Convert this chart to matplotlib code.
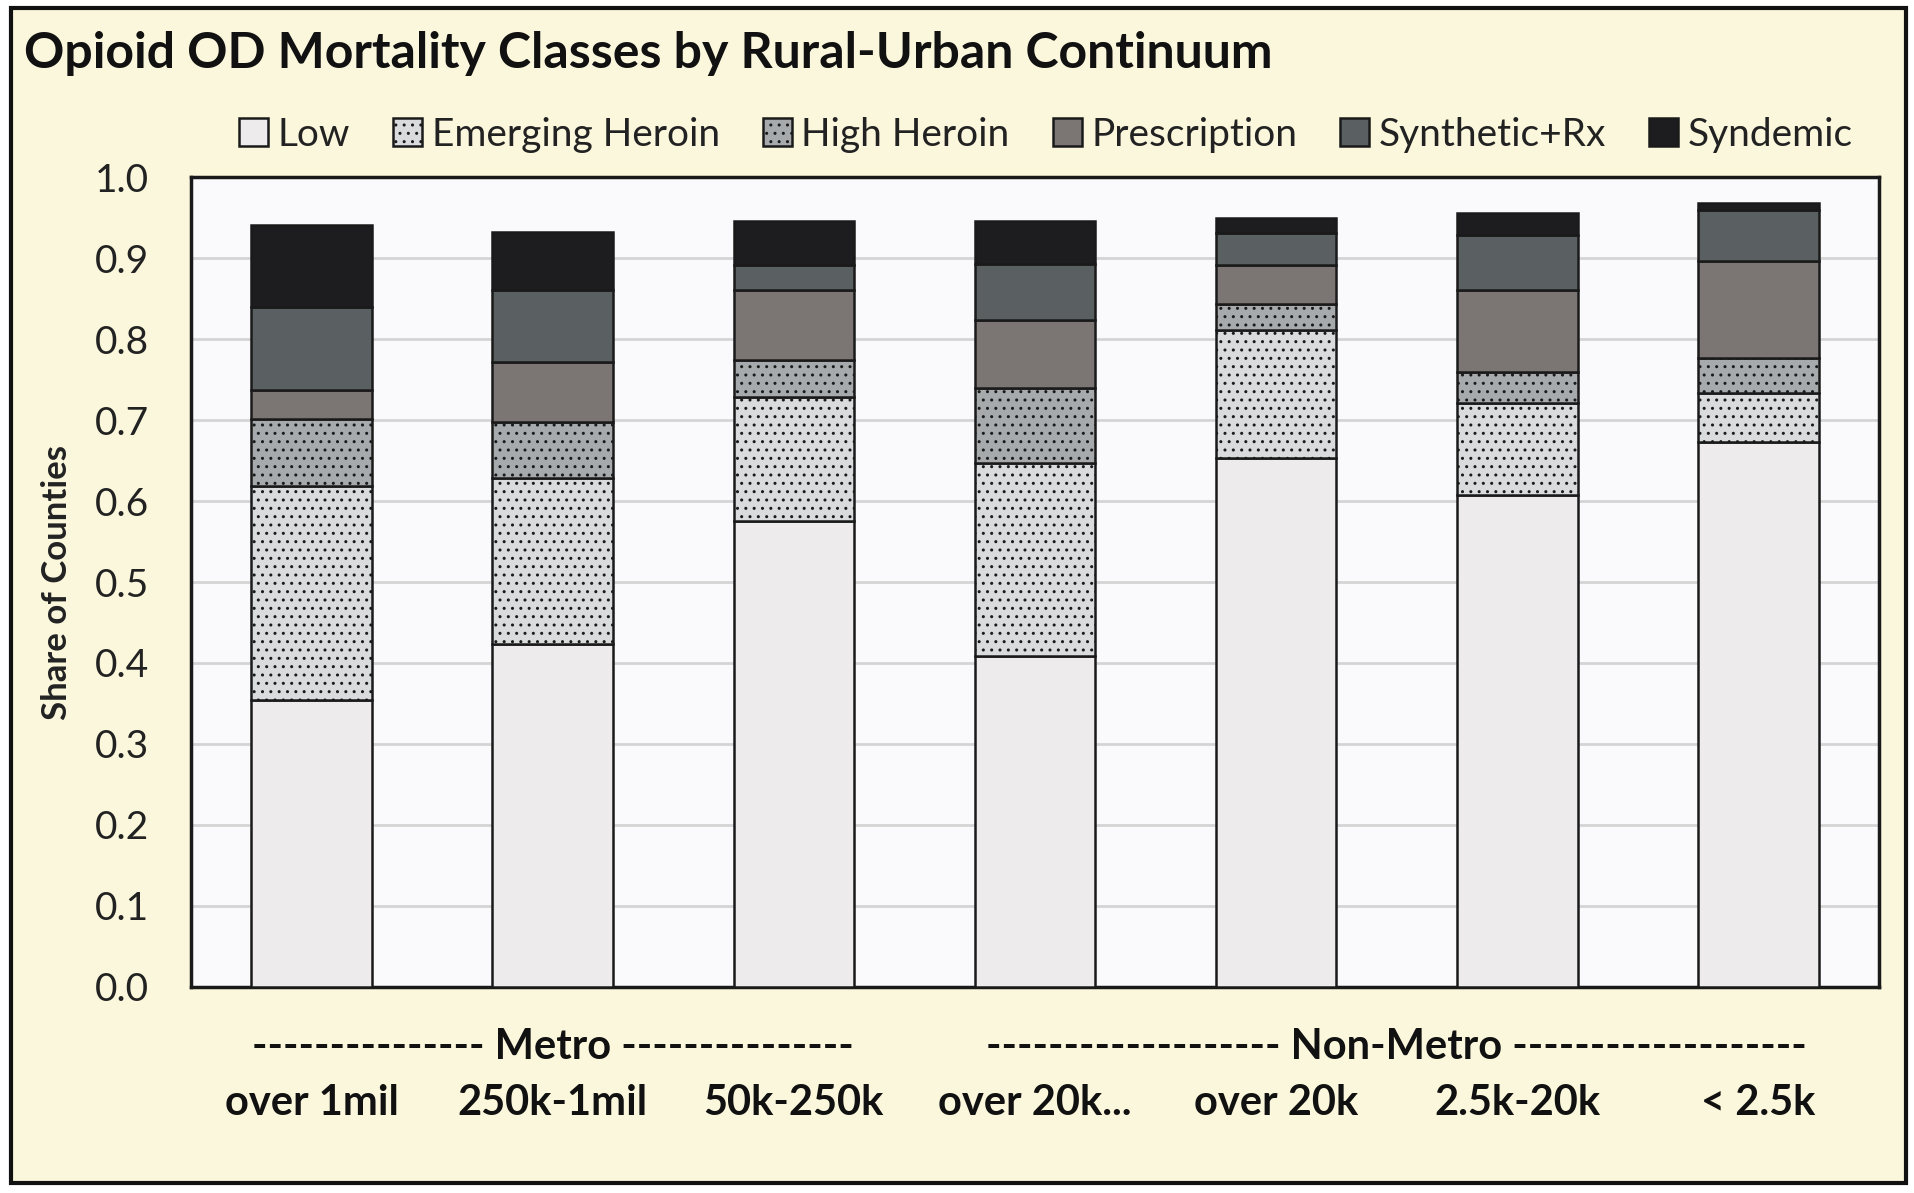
import matplotlib
matplotlib.use("Agg")
import matplotlib.pyplot as plt
from matplotlib.patches import Rectangle

# category labels and group labels
categories = ["over 1mil", "250k-1mil", "50k-250k", "over 20k...", "over 20k", "2.5k-20k", "< 2.5k"]
classes = ["Low", "Emerging Heroin", "High Heroin", "Prescription", "Synthetic+Rx", "Syndemic"]

# share of counties per class
low = [0.354, 0.424, 0.575, 0.409, 0.653, 0.608, 0.673]
emerging_heroin = [0.264, 0.205, 0.153, 0.238, 0.158, 0.113, 0.060]
high_heroin = [0.083, 0.068, 0.046, 0.092, 0.032, 0.038, 0.044]
prescription = [0.036, 0.075, 0.086, 0.085, 0.048, 0.102, 0.119]
synthetic_rx = [0.102, 0.088, 0.031, 0.069, 0.040, 0.067, 0.063]
syndemic = [0.102, 0.072, 0.055, 0.053, 0.019, 0.028, 0.009]

series = [low, emerging_heroin, high_heroin, prescription, synthetic_rx, syndemic]
colors = ["#eeebed", "#d9dbdc", "#a7aaac", "#7b7574", "#5a5f62", "#1d1d1f"]
hatches = [None, "..", "..", None, None, None]

plt.rcParams["font.family"] = ["Lato", "DejaVu Sans"]
plt.rcParams["hatch.color"] = "#3a3a3a"
plt.rcParams["hatch.linewidth"] = 1.0

fig = plt.figure(figsize=(19.14, 11.93), dpi=100)
fig.patch.set_facecolor("white")
# cream panel with black frame
fig.patches.append(Rectangle((0.006, 0.008), 0.99, 0.985, transform=fig.transFigure,
                             facecolor="#fbf7dc", edgecolor="#111111", linewidth=3, zorder=-1))

ax = fig.add_axes([0.0998, 0.1727, 0.8819, 0.6789])
ax.set_facecolor("#fafafc")

x = list(range(len(categories)))
bottom = [0.0] * len(categories)
for name, vals, col, h in zip(classes, series, colors, hatches):
    ax.bar(x, vals, width=0.5, bottom=bottom, color=col, edgecolor="#1a1a1a",
           linewidth=1.8, hatch=h, label=name, zorder=3)
    bottom = [b + v for b, v in zip(bottom, vals)]

ax.set_xlim(-0.5, len(categories) - 0.5)
ax.set_ylim(0, 1.0)
ax.set_yticks([i / 10 for i in range(11)])
ax.set_yticklabels([f"{i / 10:.1f}" for i in range(11)], fontsize=28, color="#222222")
ax.tick_params(axis="y", length=0, pad=30)
ax.tick_params(axis="x", length=0)
ax.set_xticks([])
ax.grid(axis="y", color="#d4d4d4", linewidth=2, zorder=0)
for s in ax.spines.values():
    s.set_linewidth(2.5)
    s.set_color("#1a1a1a")

ax.set_ylabel("Share of Counties", fontsize=25, fontweight="bold", labelpad=16, color="#222222")

# two-level category labels
trans = ax.get_xaxis_transform()
for i, c in enumerate(categories):
    ax.text(i, -0.143, c, transform=trans, ha="center", va="center",
            fontsize=30, fontweight="bold", color="#111111")
ax.text(1, -0.074, "-" * 15 + " Metro " + "-" * 15, transform=trans, ha="center", va="center",
        fontsize=30, fontweight="bold", color="#111111")
ax.text(4.5, -0.074, "-" * 19 + " Non-Metro " + "-" * 19, transform=trans, ha="center", va="center",
        fontsize=30, fontweight="bold", color="#111111")

fig.text(0.0125, 0.955, "Opioid OD Mortality Classes by Rural-Urban Continuum",
         fontsize=36, fontweight="bold", color="#111111", ha="left", va="center")

fig.legend(loc="center", bbox_to_anchor=(0.5465, 0.887), ncol=6, frameon=False,
           fontsize=28, handlelength=0.75, handleheight=0.75, handletextpad=0.25,
           columnspacing=1.1, labelcolor="#222222")

fig.savefig("out.png", dpi=100, facecolor=fig.get_facecolor())
